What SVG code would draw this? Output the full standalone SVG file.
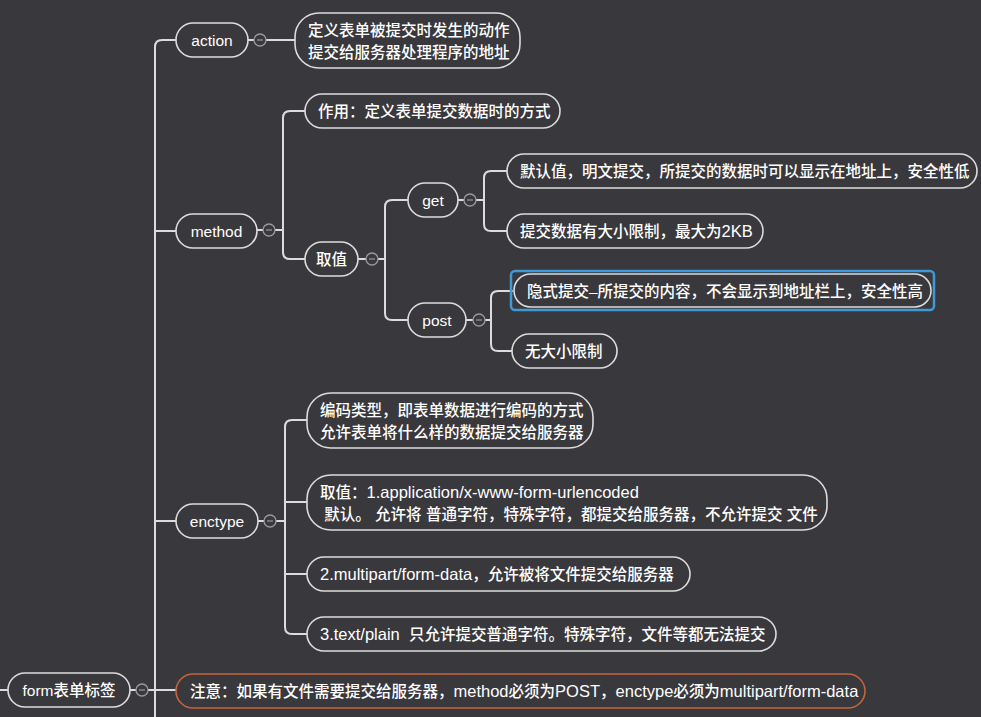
<svg xmlns="http://www.w3.org/2000/svg" width="981" height="717" viewBox="0 0 981 717">
<style>
.bg{fill:#39383d}
.n{fill:#39383d;stroke:#dcdcdc;stroke-width:1.6}
.c{fill:none;stroke:#dcdcdc;stroke-width:2;stroke-linecap:round;stroke-linejoin:round}
.t{fill:#ffffff;font-family:"Liberation Sans","Noto Sans CJK SC",sans-serif;font-size:15.5px;font-weight:500;white-space:pre}
.l{font-size:16.5px}
.tc{text-anchor:middle}
.col{fill:#39383d;stroke:#9a9a9a;stroke-width:1.3}
.minus{stroke:#9a9a9a;stroke-width:1.2}
</style>
<rect class="bg" x="0" y="0" width="981" height="717"/>
<g id="connectors">
<path class="c" d="M0 690H8"/>
<path class="c" d="M130 690H136"/>
<path class="c" d="M148 690H176"/>
<path class="c" d="M176 40H162Q155 40 155 47V717"/>
<path class="c" d="M155 231H176"/>
<path class="c" d="M155 521H176"/>
<path class="c" d="M248 40H254"/>
<path class="c" d="M266 40H295"/>
<path class="c" d="M257 230H263"/>
<path class="c" d="M275 230H283"/>
<path class="c" d="M305 111H290Q283 111 283 118V252Q283 259 290 259H305"/>
<path class="c" d="M358 259H366"/>
<path class="c" d="M378 259H385"/>
<path class="c" d="M408 200H392Q385 200 385 207V313Q385 320 392 320H408"/>
<path class="c" d="M458 200H464"/>
<path class="c" d="M476 200H484"/>
<path class="c" d="M507 171H491Q484 171 484 178V224Q484 231 491 231H507"/>
<path class="c" d="M466 320H473"/>
<path class="c" d="M485 320H491"/>
<path class="c" d="M512 291H498Q491 291 491 298V344Q491 351 498 351H512"/>
<path class="c" d="M258 521H264"/>
<path class="c" d="M276 521H285"/>
<path class="c" d="M307 420H292Q285 420 285 427V627Q285 634 292 634H307"/>
<path class="c" d="M285 502H307"/>
<path class="c" d="M285 574H307"/>
</g>
<g id="collapse">
<circle class="col" cx="142" cy="690" r="6"/><path class="minus" d="M139 690H145"/>
<circle class="col" cx="260" cy="40" r="6"/><path class="minus" d="M257 40H263"/>
<circle class="col" cx="269" cy="230" r="6"/><path class="minus" d="M266 230H272"/>
<circle class="col" cx="372" cy="259" r="6"/><path class="minus" d="M369 259H375"/>
<circle class="col" cx="470" cy="200" r="6"/><path class="minus" d="M467 200H473"/>
<circle class="col" cx="479" cy="320" r="6"/><path class="minus" d="M476 320H482"/>
<circle class="col" cx="270" cy="521" r="6"/><path class="minus" d="M267 521H273"/>
</g>
<g id="root">
<rect class="n" x="8" y="673" width="122" height="34" rx="17"/>
<text class="t tc" x="69" y="696">form表单标签</text>
</g>
<g id="action">
<rect class="n" x="176" y="23" width="72" height="34" rx="17"/>
<text class="t tc" x="212" y="46">action</text>
</g>
<g id="action-desc">
<rect class="n" x="295" y="13" width="225" height="55" rx="24"/>
<text class="t" x="308" y="36">定义表单被提交时发生的动作</text>
<text class="t" x="308" y="58">提交给服务器处理程序的地址</text>
</g>
<g id="method">
<rect class="n" x="176" y="214" width="81" height="34" rx="17"/>
<text class="t tc" x="216.5" y="237">method</text>
</g>
<g id="method-use">
<rect class="n" x="305" y="94" width="255" height="34" rx="17"/>
<text class="t" x="318" y="117">作用：定义表单提交数据时的方式</text>
</g>
<g id="method-values">
<rect class="n" x="305" y="242" width="53" height="34" rx="17"/>
<text class="t tc" x="331.5" y="265">取值</text>
</g>
<g id="get">
<rect class="n" x="408" y="183" width="50" height="34" rx="17"/>
<text class="t tc" x="433" y="206">get</text>
</g>
<g id="get-1">
<rect class="n" x="507" y="154" width="470" height="34" rx="17"/>
<text class="t" x="520" y="177">默认值，明文提交，所提交的数据时可以显示在地址上，安全性低</text>
</g>
<g id="get-2">
<rect class="n" x="507" y="214" width="256" height="34" rx="17"/>
<text class="t" x="520" y="237">提交数据有大小限制，最大为<tspan class="l">2KB</tspan></text>
</g>
<g id="post">
<rect class="n" x="408" y="303" width="58" height="34" rx="17"/>
<text class="t tc" x="437" y="326">post</text>
</g>
<g id="post-1">
<rect x="511" y="271" width="423" height="39" rx="4" fill="none" stroke="#3d9ad6" stroke-width="2.5"/>
<rect class="n" x="514" y="274" width="417" height="33" rx="16.5"/>
<text class="t" x="527" y="297">隐式提交–所提交的内容，不会显示到地址栏上，安全性高</text>
</g>
<g id="post-2">
<rect class="n" x="512" y="334" width="105" height="34" rx="17"/>
<text class="t" x="525" y="357">无大小限制</text>
</g>
<g id="enctype">
<rect class="n" x="176" y="504" width="82" height="34" rx="17"/>
<text class="t tc" x="217" y="527">enctype</text>
</g>
<g id="enctype-desc">
<rect class="n" x="307" y="393" width="286" height="55" rx="24"/>
<text class="t" x="320" y="416">编码类型，即表单数据进行编码的方式</text>
<text class="t" x="320" y="438">允许表单将什么样的数据提交给服务器</text>
</g>
<g id="enctype-1">
<rect class="n" x="307" y="475" width="520" height="55" rx="24"/>
<text class="t" x="320" y="498">取值：<tspan class="l">1.application/x-www-form-urlencoded</tspan></text>
<text class="t" x="320" y="520" xml:space="preserve"> 默认。 允许将 普通字符，特殊字符，都提交给服务器，不允许提交 文件</text>
</g>
<g id="enctype-2">
<rect class="n" x="307" y="557" width="383" height="34" rx="17"/>
<text class="t" x="320" y="580"><tspan class="l">2.multipart/form-data</tspan>，允许被将文件提交给服务器</text>
</g>
<g id="enctype-3">
<rect class="n" x="307" y="617" width="469" height="34" rx="17"/>
<text class="t" x="320" y="640" xml:space="preserve"><tspan class="l">3.text/plain  </tspan>只允许提交普通字符。特殊字符，文件等都无法提交</text>
</g>
<g id="note">
<rect x="176" y="674" width="689" height="34" rx="17" fill="#39383d" stroke="#c4633d" stroke-width="1.6"/>
<text class="t" x="190" y="697">注意：如果有文件需要提交给服务器，<tspan class="l">method</tspan>必须为<tspan class="l">POST</tspan>，<tspan class="l">enctype</tspan>必须为<tspan class="l">multipart/form-data</tspan></text>
</g>
</svg>
